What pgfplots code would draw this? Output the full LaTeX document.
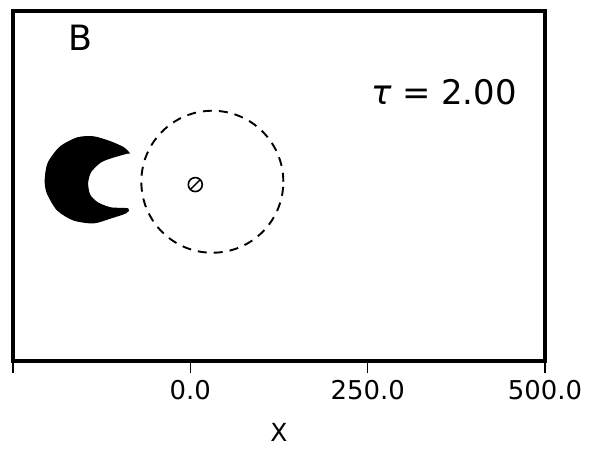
\documentclass[border=0pt]{standalone}
\usepackage{pgfplots}
\pgfplotsset{compat=1.18}
\usepackage{fontspec}
\setmainfont{DejaVu Sans}

\begin{document}
\begin{tikzpicture}
\begin{axis}[
    scale only axis,
    width=532bp, height=350bp,
    xmin=-250, xmax=500,
    ymin=-247, ymax=247,
    axis line style={line width=3.4bp},
    xtick={-250,0,250,500},
    xticklabels={,0.0,250.0,500.0},
    ytick=\empty,
    xtick pos=bottom,
    tick align=outside,
    major tick length=12bp,
    tick style={line width=1.4bp, black},
    /pgf/number format/assume math mode=true,
    xticklabel style={font=\fontsize{26}{26}\selectfont, yshift=-4bp},
    xlabel={X},
    xlabel style={font=\fontsize{25}{25}\selectfont, yshift=-16bp},
    clip=false,
]
% crescent-shaped dark region
\addplot[fill=black, draw=black, line width=1.2bp, smooth, tension=0.45] coordinates {
    (-86.6,46.7) (-93.7,53.8) (-112.2,62.2) (-136.4,69.3) (-159.1,67.9)
    (-183.2,55.2) (-200.3,32.6) (-204.5,8.6) (-201.7,-9.7) (-187.5,-33.7)
    (-164.8,-47.8) (-136.4,-52) (-112.2,-45) (-90.9,-37.9) (-88.1,-32.3)
    (-112.2,-30.9) (-130.7,-23.8) (-142,-12.5) (-144.9,4.4) (-140.6,19.9)
    (-126.4,34) (-108,41.1) (-88.1,46.7)
} --cycle;
% dashed circle
\addplot[only marks, mark=o, mark size=71bp,
    mark options={line width=1.9bp, dash pattern=on 9bp off 7bp}]
    coordinates {(31,6)};
% source marker
\addplot[only marks, mark=o, mark size=7bp, mark options={line width=1.6bp}]
    coordinates {(7,2)};
\addplot[only marks, mark=|, mark size=7bp, mark options={line width=1.4bp, rotate=-45}]
    coordinates {(7,2)};
\draw[line width=3.4bp] (rel axis cs:0,0) rectangle (rel axis cs:1,1);
\node[font=\fontsize{35}{35}\selectfont] at (rel axis cs:0.126,0.923) {B};
\node[font=\fontsize{34}{34}\selectfont] at (rel axis cs:0.81,0.769) {{\itshape τ} = 2.00};
\end{axis}
\path[draw=none] ([xshift=-13bp,yshift=-90bp]current axis.south west)
    rectangle ([xshift=54bp,yshift=11bp]current axis.north east);
\end{tikzpicture}
\end{document}
